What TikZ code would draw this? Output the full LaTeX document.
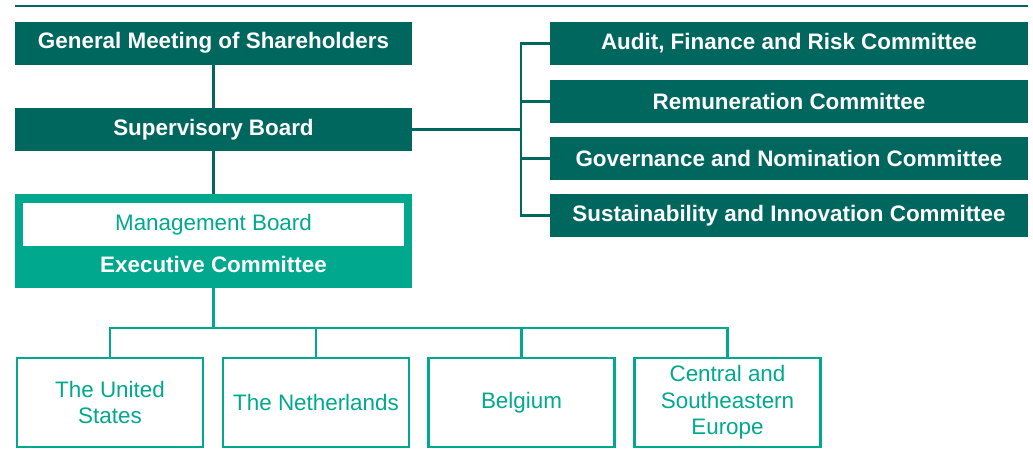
\documentclass[tikz,border=0pt]{standalone}
\usepackage{fontspec}
\setmainfont{Liberation Sans}
\definecolor{dteal}{HTML}{00675F}
\definecolor{lteal}{HTML}{00A98E}
\newcommand{\dfont}{\fontsize{22.4}{26.5}\selectfont}
\begin{document}
\begin{tikzpicture}[x=1pt,y=-1pt,
  every node/.style={inner sep=0pt, font=\dfont, align=center},
  darkbox/.style={fill=dteal, text=white, font=\dfont\bfseries, minimum height=43pt},
  countrybox/.style={draw=lteal, line width=2.5pt, fill=white, text=lteal, minimum width=186pt, minimum height=89pt},
  dline/.style={draw=dteal, line width=2.5pt},
  lline/.style={draw=lteal, line width=2.5pt}]
\useasboundingbox (0,0) rectangle (1033,464);
\draw[draw=dteal, line width=2pt] (15,5.5) -- (1028,5.5);
% left column
\node[darkbox, minimum width=397pt] (gms) at (213.5,43.2) {General Meeting of Shareholders};
\node[darkbox, minimum width=397pt] (sb) at (213.5,129.5) {Supervisory Board};
\node[fill=lteal, minimum width=397pt, minimum height=94pt] (ec) at (213.5,241) {};
\node[fill=white, text=lteal, minimum width=381pt, minimum height=43pt] (mb) at (213.5,224.5) {Management Board};
\node[text=white, font=\dfont\bfseries] (ect) at (213.5,264) {Executive Committee};
% committees
\node[darkbox, minimum width=478pt] (audit) at (789,43.5) {Audit, Finance and Risk Committee};
\node[darkbox, minimum width=478pt] (rem) at (789,101.5) {Remuneration Committee};
\node[darkbox, minimum width=478pt] (gov) at (789,158.5) {Governance and Nomination Committee};
\node[darkbox, minimum width=478pt] (sus) at (789,215.5) {Sustainability and Innovation Committee};
% countries
\node[countrybox] (us) at (110,402.5) {The United\\States};
\node[countrybox] (nl) at (316,402.5) {The Netherlands};
\node[countrybox] (be) at (521.5,402.5) {Belgium};
\node[countrybox] (cse) at (727.5,402.5) {Central and\\Southeastern\\Europe};
% connectors
\coordinate (bus) at (521,129.5);
\coordinate (hb) at (213.5,328);
\draw[dline] (gms.south) -- (sb.north);
\draw[dline] (sb.south) -- (ec.north);
\draw[dline] (sb.east) -- (bus);
\foreach \c in {audit,rem,gov,sus} \draw[dline] (\c.west) -| (bus);
\draw[lline] (ec.south) -- (hb);
\foreach \c in {us,nl,be,cse} \draw[lline] (\c.north) |- (hb);
\end{tikzpicture}
\end{document}
